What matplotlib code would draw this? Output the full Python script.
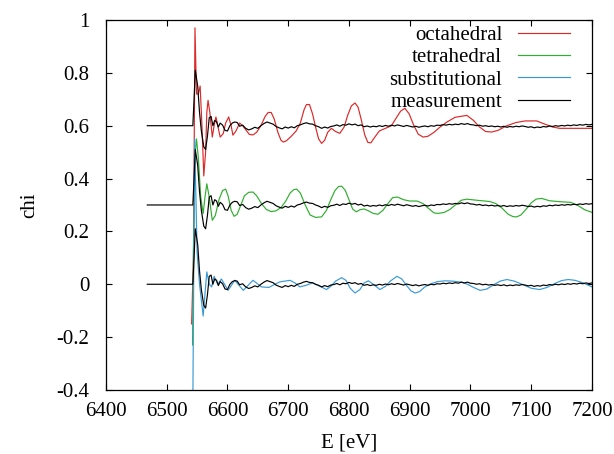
import matplotlib
matplotlib.use('Agg')
import matplotlib.pyplot as plt
import numpy as np

plt.rcParams['font.family'] = ['Liberation Serif', 'DejaVu Serif']

# octahedral model (already shifted by +0.6)
octa_e = [6541, 6544, 6546.5, 6549, 6552, 6555, 6558, 6561, 6564, 6566, 6568, 6571,
          6575, 6578, 6581, 6584, 6588, 6593, 6597, 6602, 6606, 6609, 6614, 6620,
          6625, 6630, 6636, 6642, 6648, 6655, 6662, 6667, 6672, 6677, 6683, 6688,
          6692, 6697, 6705, 6713, 6720, 6726, 6730, 6735, 6740, 6745, 6750, 6755,
          6760, 6765, 6771, 6778, 6785, 6792, 6798, 6804, 6810, 6815, 6820, 6826,
          6831, 6836, 6842, 6850, 6860, 6870, 6878, 6885, 6892, 6899, 6906, 6914,
          6922, 6930, 6940, 6950, 6962, 6975, 6994, 7005, 7015, 7025, 7035, 7045,
          7060, 7075, 7090, 7109, 7120, 7135, 7147, 7170, 7200]
octa_chi = [-0.15, 0.10, 0.97, 0.72, 0.72, 0.75, 0.60, 0.41, 0.50, 0.65, 0.696, 0.65,
            0.557, 0.60, 0.633, 0.60, 0.557, 0.57, 0.61, 0.633, 0.60, 0.564, 0.58, 0.61,
            0.60, 0.585, 0.567, 0.565, 0.575, 0.60, 0.635, 0.65, 0.65, 0.625, 0.575, 0.545,
            0.538, 0.543, 0.56, 0.58, 0.61, 0.66, 0.68, 0.68, 0.645, 0.595, 0.55, 0.533,
            0.545, 0.575, 0.59, 0.578, 0.571, 0.595, 0.64, 0.675, 0.686, 0.67, 0.625, 0.565,
            0.537, 0.535, 0.555, 0.58, 0.59, 0.60, 0.63, 0.655, 0.666, 0.645, 0.605, 0.568,
            0.557, 0.56, 0.575, 0.595, 0.615, 0.632, 0.639, 0.62, 0.595, 0.578, 0.576, 0.582,
            0.60, 0.612, 0.618, 0.618, 0.608, 0.595, 0.59, 0.59, 0.59]

# tetrahedral model (shifted by +0.3)
tetra_e = [6542.5, 6544, 6547, 6549, 6552, 6556, 6560, 6563, 6566, 6570, 6575, 6580,
           6586, 6592, 6597, 6601, 6606, 6611, 6616, 6622, 6628, 6635, 6642, 6648,
           6656, 6664, 6672, 6680, 6688, 6696, 6703, 6709, 6714, 6720, 6728, 6736,
           6745, 6755, 6763, 6770, 6777, 6783, 6788, 6794, 6800, 6806, 6812, 6818,
           6825, 6832, 6840, 6848, 6856, 6864, 6872, 6880, 6890, 6900, 6912, 6922,
           6932, 6940, 6947, 6957, 6966, 6975, 6985, 6994, 7010, 7032, 7042, 7052,
           7062, 7070, 7076, 7083, 7092, 7100, 7108, 7117, 7130, 7150, 7165, 7177,
           7188, 7200]
tetra_chi = [-0.23, 0.13, 0.50, 0.55, 0.48, 0.33, 0.268, 0.33, 0.38, 0.33, 0.242, 0.26,
             0.32, 0.355, 0.36, 0.335, 0.28, 0.257, 0.265, 0.30, 0.335, 0.348, 0.349, 0.335,
             0.305, 0.283, 0.275, 0.278, 0.29, 0.315, 0.345, 0.358, 0.36, 0.345, 0.30, 0.262,
             0.253, 0.255, 0.28, 0.32, 0.355, 0.37, 0.371, 0.355, 0.32, 0.285, 0.274, 0.282,
             0.285, 0.278, 0.268, 0.265, 0.28, 0.305, 0.328, 0.33, 0.32, 0.315, 0.315, 0.305,
             0.285, 0.27, 0.268, 0.272, 0.283, 0.30, 0.318, 0.322, 0.318, 0.313, 0.305, 0.288,
             0.265, 0.256, 0.255, 0.262, 0.285, 0.308, 0.322, 0.325, 0.316, 0.312, 0.31, 0.298,
             0.282, 0.272]

# substitutional model (no shift)
subst_e = [6543, 6546, 6550, 6554, 6560, 6566, 6570, 6574, 6578, 6584, 6590, 6601,
           6612, 6626, 6642, 6656, 6668, 6686, 6703, 6711, 6719, 6728, 6740, 6750,
           6763, 6770, 6778, 6788, 6795, 6802, 6810, 6818, 6825, 6832, 6840, 6851,
           6860, 6868, 6879, 6887, 6895, 6902, 6909, 6916, 6925, 6935, 6946, 6958,
           6970, 6985, 6995, 7005, 7016, 7027, 7038, 7049, 7060, 7072, 7087, 7100,
           7114, 7126, 7138, 7150, 7161, 7172, 7186, 7200]
subst_chi = [-0.45, 0.55, 0.12, 0.0, -0.12, 0.047, 0.0, -0.01, 0.03, 0.0, 0.02, -0.023,
             0.015, -0.023, 0.015, -0.01, -0.012, 0.009, 0.015, 0.005, -0.01, -0.005, 0.005, -0.005,
             -0.02, -0.008, 0.012, 0.025, 0.015, -0.015, -0.033, -0.02, 0.005, 0.013, 0.0, -0.02,
             -0.008, 0.012, 0.03, 0.02, -0.005, -0.025, -0.033, -0.028, -0.01, 0.002, 0.01, 0.013,
             0.012, 0.008, 0.0, -0.012, -0.023, -0.018, -0.002, 0.012, 0.018, 0.012, -0.002, -0.015,
             -0.02, -0.012, 0.002, 0.014, 0.018, 0.015, 0.005, -0.01]

# measured chi (unshifted); drawn at offsets 0.6, 0.3 and 0
meas_e = [6468, 6543, 6545, 6547, 6549, 6551, 6554, 6557, 6561, 6564, 6567, 6570,
          6573, 6576, 6579, 6582, 6585, 6588, 6592, 6596, 6600, 6604, 6608, 6612,
          6616, 6620, 6625, 6630, 6635, 6640, 6645, 6650, 6655, 6660, 6665, 6670,
          6675, 6680, 6685, 6690, 6695, 6700, 6705, 6710, 6715, 6720, 6725, 6730,
          6735, 6740, 6745, 6750, 6755, 6760, 6765, 6770, 6775, 6780, 6785, 6790,
          6795, 6800, 6805, 6810, 6815, 6820, 6825, 6830, 6835, 6840, 6845, 6850,
          6855, 6860, 6865, 6870, 6875, 6880, 6885, 6890, 6895, 6900, 6905, 6910,
          6915, 6920, 6925, 6930, 6935, 6940, 6945, 6950, 6955, 6960, 6965, 6970,
          6975, 6980, 6985, 6990, 6995, 7000, 7005, 7010, 7015, 7020, 7025, 7030,
          7035, 7040, 7045, 7050, 7055, 7060, 7065, 7070, 7075, 7080, 7085, 7090,
          7095, 7100, 7105, 7110, 7115, 7120, 7125, 7130, 7135, 7140, 7145, 7150,
          7155, 7160, 7165, 7170, 7175, 7180, 7185, 7190, 7195, 7200]
meas_chi = [0.0, 0.0, 0.10, 0.21, 0.18, 0.15, 0.05, -0.02, -0.08, -0.09, -0.04, 0.03,
            0.035, 0.0, 0.02, 0.015, -0.005, 0.01, 0.002, -0.018, -0.02, 0.0, 0.01, 0.014,
            0.012, -0.002, 0.002, -0.01, -0.016, -0.012, -0.006, -0.01, 0.0, 0.008, 0.014, 0.01,
            0.006, -0.003, -0.008, -0.012, -0.005, -0.009, -0.004, -0.008, 0.0, 0.003, 0.008, 0.011,
            0.007, 0.006, 0.0, -0.004, -0.01, -0.005, -0.009, -0.003, -0.001, 0.003, -0.002, 0.004,
            0.002, 0.007, 0.003, 0.006, 0.0, 0.003, -0.004, -0.001, -0.005, -0.002, -0.004, 0.0,
            -0.003, 0.001, -0.002, 0.002, -0.001, 0.003, 0.0, -0.003, 0.001, -0.002, -0.005, -0.002,
            -0.006, -0.003, -0.001, -0.004, 0.0, -0.002, 0.002, 0.001, 0.004, 0.002, 0.005, 0.003,
            0.006, 0.004, 0.008, 0.005, 0.008, 0.004, 0.003, 0.0, 0.002, -0.002, 0.0, -0.003,
            -0.001, -0.004, -0.002, -0.005, -0.002, -0.006, -0.003, -0.005, -0.002, -0.004, -0.001, -0.003,
            -0.006, -0.004, -0.008, -0.005, -0.007, -0.003, -0.005, -0.001, -0.003, 0.0, -0.002, 0.001,
            -0.001, 0.002, 0.0, 0.003, 0.001, 0.004, 0.002, 0.005, 0.003, 0.005]
meas_offsets = [0.6, 0.3, 0.0]

fig = plt.figure(figsize=(6.14, 4.54), dpi=100)
ax = fig.add_axes([0.1726, 0.141, 0.7915, 0.815])

lw = 0.85
ax.plot(octa_e, octa_chi, color='#dc2828', lw=lw, label='octahedral')
ax.plot(tetra_e, tetra_chi, color='#2fae2f', lw=lw, label='tetrahedral')
ax.plot(subst_e, subst_chi, color='#3a9ad6', lw=lw, label='substitutional')
meas = np.array(meas_chi)
for i, off in enumerate(meas_offsets):
    ax.plot(meas_e, meas + off, color='black', lw=lw,
            label='measurement' if i == 0 else None)

ax.set_xlim(6400, 7200)
ax.set_ylim(-0.4, 1.0)
ax.set_xticks(np.arange(6400, 7201, 100))
ax.set_yticks([-0.4, -0.2, 0, 0.2, 0.4, 0.6, 0.8, 1])
ax.set_yticklabels(['-0.4', '-0.2', '0', '0.2', '0.4', '0.6', '0.8', '1'])
ax.tick_params(direction='in', top=True, right=True, length=4, width=0.8,
               labelsize=15)
ax.tick_params(axis='x', pad=9)
ax.tick_params(axis='y', pad=12)
for s in ax.spines.values():
    s.set_linewidth(0.9)

ax.set_xlabel('E [eV]', fontsize=15, labelpad=9)
ax.set_ylabel('chi', fontsize=15, labelpad=12)

leg = ax.legend(loc='upper right', bbox_to_anchor=(0.9547, 0.985),
                frameon=False, markerfirst=False,
                fontsize=15, handlelength=2.5, handletextpad=0.75,
                labelspacing=0.13, borderaxespad=0.0, borderpad=0.0)
for t in leg.get_texts():
    t.set_ha('right')

fig.savefig('out.png', dpi=100)
